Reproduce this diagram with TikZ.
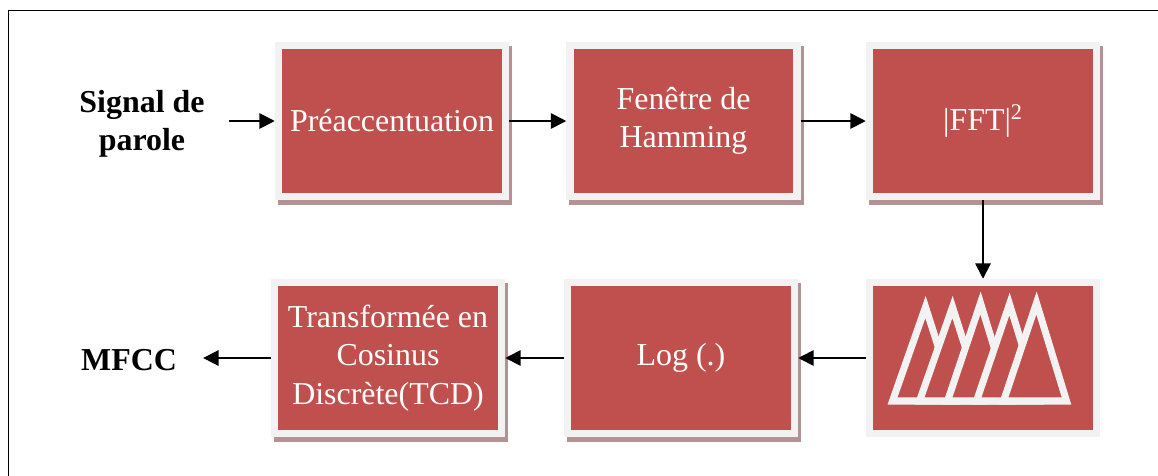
\documentclass[tikz,border=0pt]{standalone}
\usepackage{fontspec}
\setmainfont{Liberation Serif}
\usepackage{tikz}
\usetikzlibrary{arrows.meta,backgrounds}
\definecolor{rouge}{HTML}{C0504D}
\definecolor{cadre}{HTML}{F2F2F2}
\definecolor{ombre}{RGB}{178,146,146}
\tikzset{
        bloc/.style={rectangle, fill=rouge, draw=cadre, line width=5.3pt,
            minimum width=5.675cm, minimum height=3.775cm, inner sep=0pt,
            align=center, text=white, font=\fontsize{22.7}{27.3}\selectfont},
        titre/.style={align=center, inner sep=0pt,
            font=\fontsize{22.7}{27.3}\selectfont\bfseries},
        fleche/.style={line width=1.3pt, -{Triangle[length=11pt,width=11pt]}},
        filtre/.style={fill=rouge, draw=cadre, line width=5pt},
    }
\begin{document}
\begin{tikzpicture}[x=0.025cm, y=-0.025cm]
                \useasboundingbox (0,0) rectangle (1158,475);
                \draw[line width=1.4pt] (8.5,490) -- (8.5,10.5) -- (1170,10.5);
                % ligne du haut
                \node[titre] (signal) at (142,124) {Signal de\\parole};
                \node[bloc] (b1) at (392,121) {Préaccentuation};
                \node[bloc] (b2) at (683.5,121) {Fenêtre de\\Hamming};
                \node[bloc] (b3) at (983,121) {|FFT|\textsuperscript{2}};
                % ligne du bas
                \node[bloc] (b4) at (983,358) {};
                \node[bloc] (b5) at (681,358) {Log (.)};
                \node[bloc] (b6) at (388,358) {Transformée en\\Cosinus\\Discrète(TCD)};
                \node[titre] (mfcc) at (129,360) {MFCC};
                % banc de filtres
                \foreach \a/\t in {-57.5/-51,-30.5/-51,-2.5/-55,26.5/-54,53.5/-55}
                {
                    \filldraw[filtre] ([shift={(\a-33,43)}]b4.center) -- ([shift={(\a,\t)}]b4.center)
                        -- ([shift={(\a+30,43)}]b4.center) -- cycle;
                }
                \begin{scope}[on background layer]
                    \foreach \n in {b1,b2,b3,b5,b6}
                        \fill[ombre] ([shift={(3,4.5)}]\n.north west) rectangle ([shift={(3,4.5)}]\n.south east);
                \end{scope}
                \draw[fleche, shorten <=0.6cm] (signal.east |- b1.west) -- (b1.west);
                \draw[fleche] (b1.east) -- (b1.east -| b2.west);
                \draw[fleche] (b2.east) -- (b2.east -| b3.west);
                \draw[fleche] (b3.south) -- (b3.south |- b4.north);
                \draw[fleche] (b4.west) -- (b4.west -| b5.east);
                \draw[fleche] (b5.west) -- (b5.west -| b6.east);
                \draw[fleche, shorten >=0.65cm] (b6.west) -- (b6.west -| mfcc.east);
            \end{tikzpicture}
\end{document}
